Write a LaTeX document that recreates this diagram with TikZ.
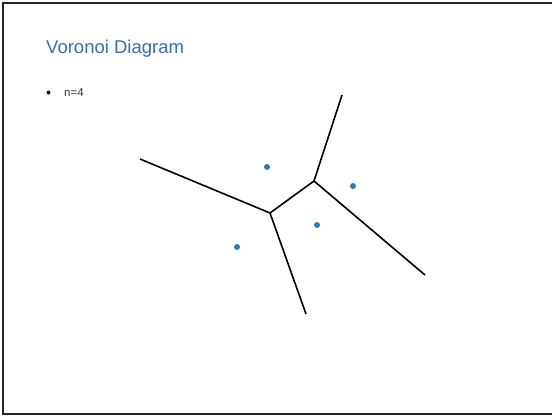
\documentclass[tikz,border=0pt]{standalone}
\usepackage{fontspec}
\setmainfont{Liberation Sans}
\definecolor{titleblue}{HTML}{3A6EA5}
\definecolor{siteblue}{HTML}{3578AE}
\definecolor{bodygray}{HTML}{333333}
\tikzset{
  edge/.style={line width=1.6pt, black},
  site/.style={circle, fill=siteblue, inner sep=0pt, minimum size=6pt},
  frame/.style={line width=1.2pt, black!85},
}
\begin{document}
\begin{tikzpicture}[x=1pt, y=-1pt]
\useasboundingbox (0,0) rectangle (552,416);
\draw[frame] (552,3) -- (3,3) -- (3,414) -- (552,414);
\node[anchor=base west, text=titleblue, font=\fontsize{18.5}{22}\selectfont, inner sep=0pt] (title) at (46,53) {Voronoi Diagram};
\node[anchor=base west, text=bodygray, font=\fontsize{11.5}{13}\selectfont, inner sep=0pt] (item) at (64,96) {n=4};
\node[circle, fill=black, inner sep=0pt, minimum size=4pt] (bullet) at (48.5,92.5) {};
% Voronoi vertices and ends
\coordinate (v1) at (270,213);
\coordinate (v2) at (314,181);
\coordinate (e1) at (140,159);
\coordinate (e2) at (342,95);
\coordinate (e3) at (425,275);
\coordinate (e4) at (306,314);
\draw[edge] (e1) -- (v1) -- (v2) -- (e2);
\draw[edge] (v2) -- (e3);
\draw[edge] (v1) -- (e4);
% sites
\node[site] (s1) at (267,167) {};
\node[site] (s2) at (353,186) {};
\node[site] (s3) at (317,225) {};
\node[site] (s4) at (237,247) {};
\end{tikzpicture}
\end{document}
